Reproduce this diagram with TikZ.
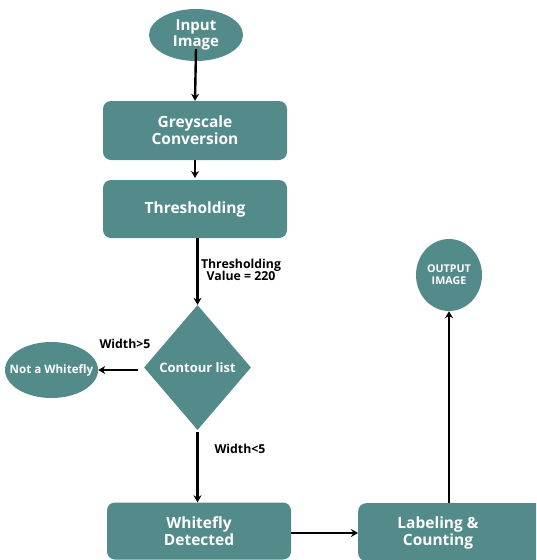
\documentclass[tikz,border=0pt]{standalone}
\usepackage{fontspec}
\setmainfont{Open Sans}
\usetikzlibrary{shapes.geometric,arrows.meta}
\definecolor{teal1}{RGB}{83,139,138}
\newcommand{\ovtext}[1]{\makebox[0pt][c]{#1}}
\tikzset{
  box/.style={draw=none,fill=teal1,rounded corners=8pt,text=white,font=\bfseries\fontsize{15.5}{17}\selectfont,align=center,inner sep=0pt},
  oval/.style={ellipse,draw=none,fill=teal1,text=white,align=center,inner sep=0pt},
  dia/.style={diamond,draw=none,fill=teal1,text=white,inner sep=0pt,font=\bfseries\fontsize{13}{15}\selectfont},
  lbl/.style={font=\bfseries\fontsize{12.3}{12.5}\selectfont,align=center,text=black,inner sep=0pt},
  arr/.style={draw=black,line width=2.4pt,-{Stealth[length=7pt,width=8pt]}}
}
\begin{document}
\begin{tikzpicture}[x=1pt,y=-1pt]
\useasboundingbox (0,0) rectangle (536,560);
\clip (0,0) rectangle (536,560);
\node[oval,minimum width=94pt,minimum height=52pt,font=\bfseries\fontsize{15}{16}\selectfont] (in) at (196,35) {Input\\Image};
\node[box,minimum width=184pt,minimum height=59pt] (grey) at (195,130.5) {Greyscale\\Conversion};
\node[box,minimum width=184pt,minimum height=58pt] (thr) at (195,209) {Thresholding};
\node[dia,minimum width=107pt,minimum height=125pt] (cont) at (197.5,367.5) {Contour list};
\node[oval,minimum width=93pt,minimum height=56pt,font=\bfseries\fontsize{11.6}{13}\selectfont] (not) at (51.5,370) {\ovtext{Not a Whitefly}};
\node[box,minimum width=184pt,minimum height=57pt] (wf) at (199,531) {Whitefly\\Detected};
\node[box,minimum width=190pt,minimum height=58pt,anchor=north west] (lab) at (358,503) {};
\node[text=white,font=\bfseries\fontsize{15.5}{17}\selectfont,align=center,inner sep=0pt] (labt) at (438,533) {Labeling \&\\Counting};
\node[oval,minimum width=66pt,minimum height=72pt,font=\bfseries\fontsize{10.7}{12}\selectfont] (out) at (449,275) {OUTPUT\\IMAGE};
\node[lbl] (l1) at (241,270) {Thresholding\\Value = 220};
\node[lbl] (l2) at (125,344) {Width>5};
\node[lbl] (l3) at (240,449) {Width<5};
\path (cont.west |- not.east) coordinate (cw);
\draw[arr] ([yshift=12pt]in.south) -- (grey.north);
\draw[arr] (grey.south) -- (thr.south |- 178,178);
\draw[arr] (thr.south -| cont.north) -- (cont.north);
\draw[arr] ([xshift=-6pt]cw) -- (not.east);
\draw[arr] ([yshift=-2pt]cont.south) -- (cont.south |- wf.north);
\draw[arr] (wf.east |- 0,533) -- (lab.west |- 0,533);
\draw[arr] (out.south |- lab.north) -- (out.south);
\end{tikzpicture}
\end{document}
